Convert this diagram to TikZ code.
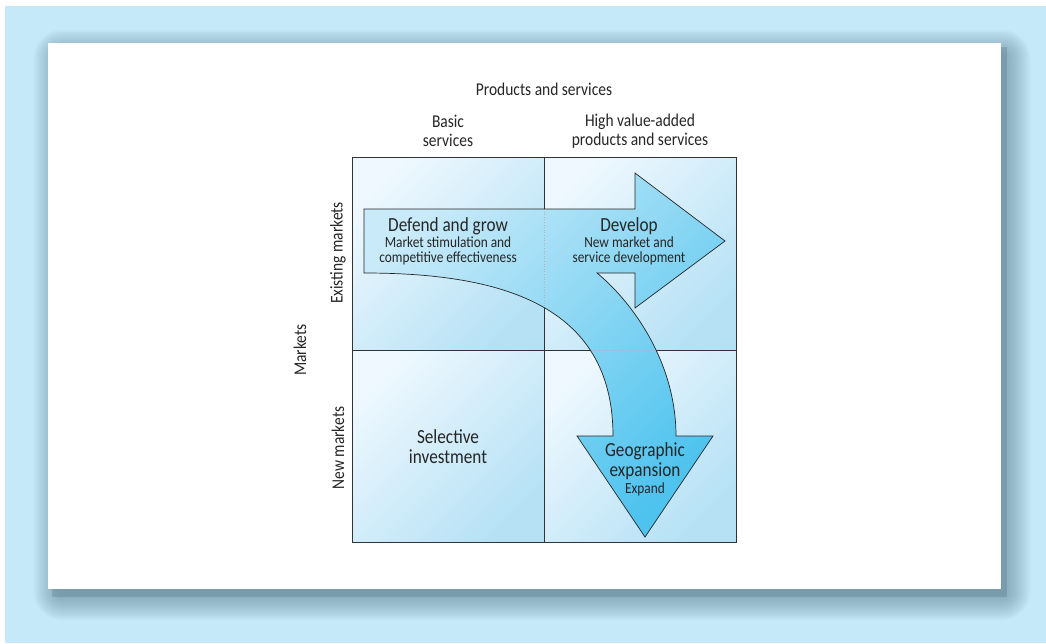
\documentclass[tikz,border=0pt]{standalone}
\usepackage{fontspec}
\setmainfont{Carlito}[FakeStretch=0.86]
\usepackage{xcolor}
\usepackage{tikz}
\usetikzlibrary{positioning}

\definecolor{panelblue}{HTML}{C6E9F9}
\definecolor{shadowblue}{HTML}{5A7F90}
\definecolor{celllight}{HTML}{EEF8FE}
\definecolor{celldark}{HTML}{B6E1F5}
\definecolor{arrowlight}{HTML}{C8EAF9}
\definecolor{arrowdark}{HTML}{4EC3EE}

% outline of the bent arrow (develop -> expand)
\newcommand\bendarrowpath{(364,209) -- (635,209) -- (635,173) -- (725,241) -- (635,308)
  -- (635,273) -- (597,273) .. controls (630,300) and (676,360) .. (676,436)
  -- (713,436) -- (645,537) -- (577,436) -- (613,436)
  .. controls (613,304) and (500,273) .. (364,273) -- cycle}

\begin{document}
\begin{tikzpicture}[x=1pt,y=-1pt,
  cellline/.style={draw=black!80, line width=0.8pt},
  head/.style={font=\fontsize{18}{19}\selectfont, align=center, inner sep=0pt, text=black!85},
  title/.style={font=\fontsize{20}{20}\selectfont, align=center, inner sep=0pt, text=black!85},
  sub/.style={font=\fontsize{15.5}{14.5}\selectfont, align=center, inner sep=0pt, text=black!85}]

  % ── page, panel and card ────────────────────────────────────────────
  \useasboundingbox (0,0) rectangle (1046,643);
  \fill[white]      (0,0) rectangle (1046,643);
  \fill[panelblue]  (5,6) rectangle (1046,643);

  \foreach \k [evaluate=\k as \r using \k+4] in {24,22,...,0}
    \fill[shadowblue, opacity=0.055, rounded corners=\r pt]
      (58-\k,54-\k) rectangle (1006+\k,596+\k);
  \fill[shadowblue, opacity=0.35] (52,47) rectangle (1007,597);
  \fill[white] (48,43) rectangle (1001,589);

  % ── the four cells ──────────────────────────────────────────────────
  \foreach \cx/\cy/\h in {352/157/193, 544/157/193, 352/350/192, 544/350/192}
    \shade[top color=celllight, bottom color=celldark, shading angle=45]
      (\cx,\cy) rectangle ++(192,\h);
  \draw[cellline] (352,157) rectangle (736,542);
  \draw[cellline] (544,157) -- (544,542);
  \draw[cellline] (352,350) -- (736,350);

  % ── the bent arrow ──────────────────────────────────────────────────
  \shade[top color=arrowlight, bottom color=arrowdark, shading angle=45] \bendarrowpath;
  \begin{scope}
    \clip \bendarrowpath;
    \draw[black!30, dotted, line width=0.6pt] (544,157) -- (544,542) (352,350) -- (736,350);
  \end{scope}
  \draw[black!85, line width=0.7pt, line join=miter] \bendarrowpath;

  % ── axis headings ───────────────────────────────────────────────────
  \node[head] (prodserv) at (544,89)  {Products and services};
  \node[head] (basic)    at (448,131) {Basic\\services};
  \node[head] (highval)  at (640,131) {High value-added\\products and services};
  \node[head, rotate=90] (markets)  at (300,350) {Markets};
  \node[head, rotate=90] (existing) at (338,253) {Existing markets};
  \node[head, rotate=90] (newmk)    at (338,448) {New markets};

  % ── strategies ──────────────────────────────────────────────────────
  \node[title] (defend) at (448,226) {Defend and grow};
  \node[sub, below=2pt of defend] (defendsub) {Market stimulation and\\competitive effectiveness};
  \node[title] (develop) at (629,226) {Develop};
  \node[sub, below=2pt of develop] (developsub) {New market and\\service development};
  \node[title] (selective) at (448,447) {Selective\\investment};
  \node[title] (geo) at (645,461) {Geographic\\expansion};
  \node[sub, below=3pt of geo] (expand) {Expand};

\end{tikzpicture}
\end{document}
